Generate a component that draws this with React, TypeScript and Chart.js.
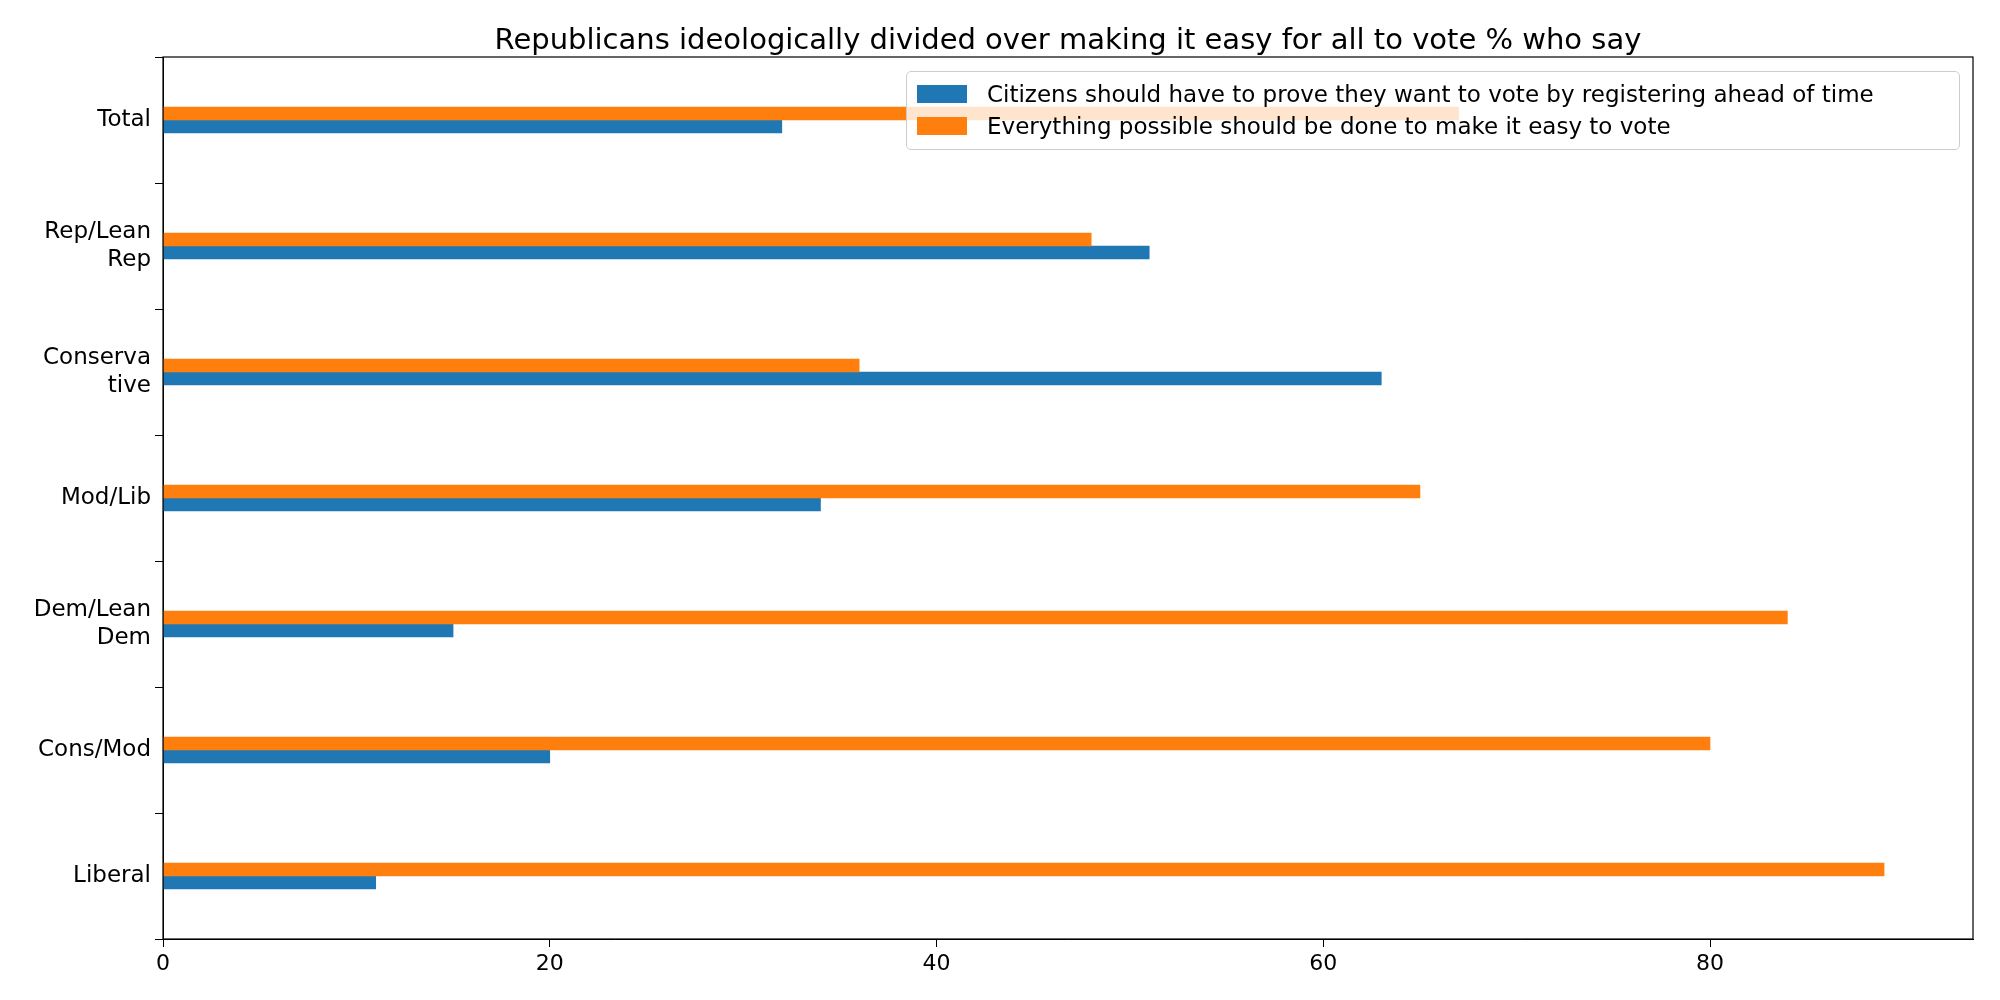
import React, { useEffect, useRef } from 'react'
import { Chart, ChartConfiguration, registerables } from 'chart.js'

const categories: (string | string[])[] = [
  'Total',
  ['Rep/Lean', 'Rep'],
  ['Conserva', 'tive'],
  'Mod/Lib',
  ['Dem/Lean', 'Dem'],
  'Cons/Mod',
  'Liberal',
]
const proveValues = [32, 51, 63, 34, 15, 20, 11]
const easyValues = [67, 48, 36, 65, 84, 80, 89]
const proveLabel = 'Citizens should have to prove they want to vote by registering ahead of time'
const easyLabel = 'Everything possible should be done to make it easy to vote'
const xTicks = [0, 20, 40, 60, 80]

const BLUE = '#1f77b4'
const ORANGE = '#ff7f0e'
const FONT = 'DejaVu Sans'

const frame = {
  id: 'frame',
  afterDraw(chart: any) {
    const { ctx, chartArea: a } = chart
    ctx.save()
    ctx.strokeStyle = '#000'
    ctx.lineWidth = 1.2
    ctx.strokeRect(a.left, a.top, a.right - a.left, a.bottom - a.top)
    ctx.restore()
  },
}

const App = () => {
  const chartRef = useRef<any>()

  useEffect(() => {
    Chart.register(...registerables)

    const config: ChartConfiguration = {
      type: 'bar',
      data: {
        labels: categories as any,
        datasets: [
          { label: easyLabel, data: easyValues, backgroundColor: ORANGE, barThickness: 13 },
          { label: proveLabel, data: proveValues, backgroundColor: BLUE, barThickness: 13 },
        ],
      },
      options: {
        indexAxis: 'y',
        animation: false,
        responsive: false,
        layout: { padding: { top: 57, right: 27, left: 0, bottom: 0 } },
        scales: {
          x: {
            min: 0,
            max: 93.6,
            afterBuildTicks: (s: any) => {
              s.ticks = xTicks.map((v) => ({ value: v }))
            },
            afterFit: (s: any) => {
              s.height = 61
            },
            ticks: { color: '#000', font: { family: FONT, size: 22 }, padding: 4 },
            grid: { drawOnChartArea: false, drawTicks: true, tickLength: 8, color: '#000' },
            border: { color: '#000' },
          },
          y: {
            offset: true,
            afterFit: (s: any) => {
              s.width = 163
            },
            ticks: { color: '#000', font: { family: FONT, size: 23 }, padding: 4 },
            grid: { drawOnChartArea: false, drawTicks: true, tickLength: 8, color: '#000' },
            border: { color: '#000' },
          },
        },
        plugins: {
          legend: { display: false },
          tooltip: { enabled: false },
        },
      },
      plugins: [frame],
    }

    const chart = new Chart(chartRef.current, config)
    return () => {
      chart.destroy()
    }
  }, [])

  const swatch = (c: string) => (
    <span style={{ display: 'inline-block', width: 50, height: 18, background: c, marginRight: 20 }} />
  )

  return (
    <div style={{ position: 'fixed', left: 0, top: 0, width: 2000, height: 1000, background: '#fff', fontFamily: FONT }}>
      <canvas ref={chartRef} width={2000} height={1000}></canvas>
      <div style={{ position: 'absolute', top: 22, left: 163, width: 1810, textAlign: 'center', fontSize: 29 }}>
        Republicans ideologically divided over making it easy for all to vote % who say
      </div>
      <div
        style={{
          position: 'absolute',
          left: 906,
          top: 71,
          width: 1054,
          height: 79,
          boxSizing: 'border-box',
          border: '1px solid #ccc',
          borderRadius: 5,
          background: 'rgba(255,255,255,0.8)',
          padding: '6px 10px',
          fontSize: 23,
          lineHeight: '32px',
          whiteSpace: 'nowrap',
        }}
      >
        <div style={{ display: 'flex', alignItems: 'center' }}>{swatch(BLUE)}{proveLabel}</div>
        <div style={{ display: 'flex', alignItems: 'center' }}>{swatch(ORANGE)}{easyLabel}</div>
      </div>
    </div>
  )
}

export default App
